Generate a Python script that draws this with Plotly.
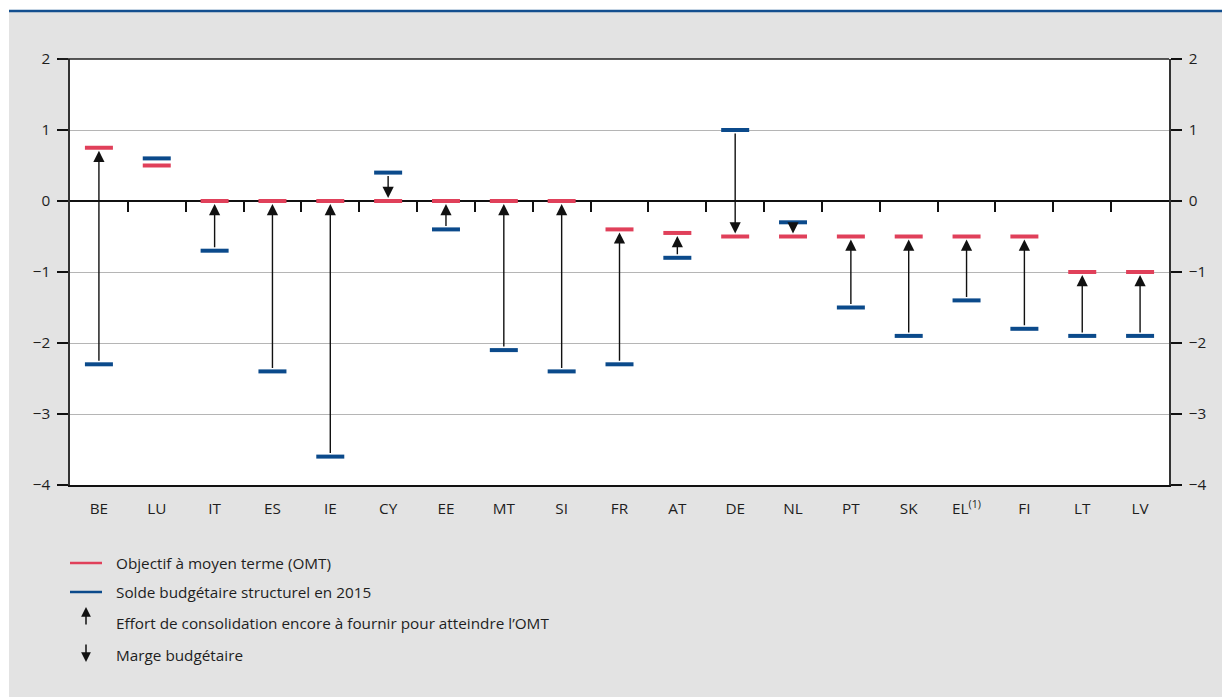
import plotly.graph_objects as go

FONT = "Open Sans, Noto Sans, sans-serif"
RED = "#e0405a"
BLUE = "#0b4a8b"
GREY_BG = "#e3e3e3"

countries = ["BE", "LU", "IT", "ES", "IE", "CY", "EE", "MT", "SI", "FR",
             "AT", "DE", "NL", "PT", "SK", "EL<sup>(1)</sup>", "FI", "LT", "LV"]
omt = [0.75, 0.5, 0, 0, 0, 0, 0, 0, 0, -0.4,
       -0.45, -0.5, -0.5, -0.5, -0.5, -0.5, -0.5, -1.0, -1.0]
solde_2015 = [-2.3, 0.6, -0.7, -2.4, -3.6, 0.4, -0.4, -2.1, -2.4, -2.3,
              -0.8, 1.0, -0.3, -1.5, -1.9, -1.4, -1.8, -1.9, -1.9]
no_arrow = ["LU"]

legend_labels = [
    "Objectif à moyen terme (OMT)",
    "Solde budgétaire structurel en 2015",
    "Effort de consolidation encore à fournir pour atteindre l’OMT",
    "Marge budgétaire",
]

fig = go.Figure()

fig.add_trace(go.Scatter(
    x=countries, y=solde_2015, mode="markers", name=legend_labels[1],
    marker=dict(symbol="line-ew", size=20, line=dict(width=4, color=BLUE)),
    showlegend=False, hoverinfo="x+y",
))
fig.add_trace(go.Scatter(
    x=countries, y=omt, mode="markers", name=legend_labels[0],
    marker=dict(symbol="line-ew", size=20, line=dict(width=4, color=RED)),
    showlegend=False, hoverinfo="x+y",
))
# helpers so the secondary axes get drawn
fig.add_trace(go.Scatter(x=[None], y=[None], xaxis="x2", yaxis="y", showlegend=False, hoverinfo="skip"))
fig.add_trace(go.Scatter(x=[None], y=[None], xaxis="x", yaxis="y2", showlegend=False, hoverinfo="skip"))

# arrows from the 2015 balance to the objective
for c, target, start in zip(countries, omt, solde_2015):
    if c in no_arrow:
        continue
    fig.add_annotation(
        x=c, y=target, ax=c, ay=start, xref="x", yref="y", axref="x", ayref="y",
        text="", showarrow=True, arrowhead=2, arrowsize=1.6, arrowwidth=1.4,
        arrowcolor="#111", standoff=3, startstandoff=2,
    )

# custom legend below the chart
def px_x(px):
    return (px - 70) / 1099


def px_y(py):
    return (485 - py) / 426


rows = [563, 592, 623, 655]
for label, row in zip(legend_labels, rows):
    fig.add_annotation(
        x=px_x(114), y=px_y(row), xref="paper", yref="paper", text=label,
        showarrow=False, xanchor="left", yanchor="middle",
        font=dict(family=FONT, size=15.3, color="#1e1e1e"),
    )
for color, row in zip([RED, BLUE], rows[:2]):
    fig.add_shape(type="line", xref="paper", yref="paper",
                  x0=px_x(70), x1=px_x(102), y0=px_y(row), y1=px_y(row),
                  line=dict(color=color, width=2.5))
# up / down arrow symbols
fig.add_annotation(x=px_x(86), y=px_y(607), ax=0, ay=19, xref="paper", yref="paper",
                   axref="pixel", ayref="pixel", text="", showarrow=True, arrowhead=2,
                   arrowsize=1.3, arrowwidth=1.5, arrowcolor="#111")
fig.add_annotation(x=px_x(86), y=px_y(662), ax=0, ay=-19, xref="paper", yref="paper",
                   axref="pixel", ayref="pixel", text="", showarrow=True, arrowhead=2,
                   arrowsize=1.3, arrowwidth=1.5, arrowcolor="#111")

# background: grey panel with white strip above/left, blue rule on top
fig.add_shape(type="rect", xref="paper", yref="paper", layer="below",
              x0=px_x(9), x1=px_x(1230), y0=px_y(11), y1=px_y(700),
              fillcolor=GREY_BG, line=dict(width=0))
fig.add_shape(type="rect", xref="x domain", yref="y domain", layer="below",
              x0=0, x1=1, y0=0, y1=1, fillcolor="white", line=dict(width=0))
fig.add_shape(type="line", xref="paper", yref="paper",
              x0=px_x(9), x1=px_x(1230), y0=px_y(11), y1=px_y(11),
              line=dict(color="#134f8f", width=2.5))

axis_font = dict(family=FONT, size=15.3, color="#1e1e1e")
fig.update_layout(
    width=1222, height=697,
    margin=dict(l=70, r=53, t=59, b=212),
    paper_bgcolor="white",
    plot_bgcolor="white",
    font=dict(family=FONT, size=15, color="#1e1e1e"),
    showlegend=False,
    xaxis=dict(
        type="category", range=[-0.5, 18.5], showgrid=False, zeroline=False,
        showline=True, linecolor="#111", linewidth=1.5, mirror=False,
        ticks="", tickfont=axis_font, ticklabelstandoff=9,
    ),
    xaxis2=dict(
        overlaying="x", anchor="free", position=2 / 3, range=[-0.5, 18.5],
        tickvals=[i + 0.5 for i in range(len(countries) - 1)],
        showticklabels=False, ticks="outside", ticklen=10, tickwidth=1.5,
        tickcolor="#111", showline=False, showgrid=False, zeroline=False,
    ),
    yaxis=dict(
        range=[-4, 2], dtick=1, showgrid=True, gridcolor="#b5b5b5", gridwidth=1,
        zeroline=True, zerolinecolor="#111", zerolinewidth=1.5,
        showline=True, linecolor="#333", linewidth=1.5,
        ticks="outside", ticklen=11, tickcolor="#111", tickwidth=1.5,
        tickfont=axis_font, ticklabelstandoff=4,
    ),
    yaxis2=dict(
        overlaying="y", side="right", range=[-4, 2], dtick=1, showgrid=False,
        zeroline=False, showline=True, linecolor="#333", linewidth=1.5,
        ticks="outside", ticklen=11, tickcolor="#111", tickwidth=1.5,
        tickfont=axis_font, ticklabelstandoff=4,
    ),
)
# top border at y=2
fig.add_shape(type="line", xref="x domain", yref="y domain", x0=-0.01, x1=1.0, y0=1, y1=1,
              line=dict(color="#222", width=1.5))

fig.write_html("out.html", config={"displayModeBar": False},
               post_script="document.body.style.margin='0';")
